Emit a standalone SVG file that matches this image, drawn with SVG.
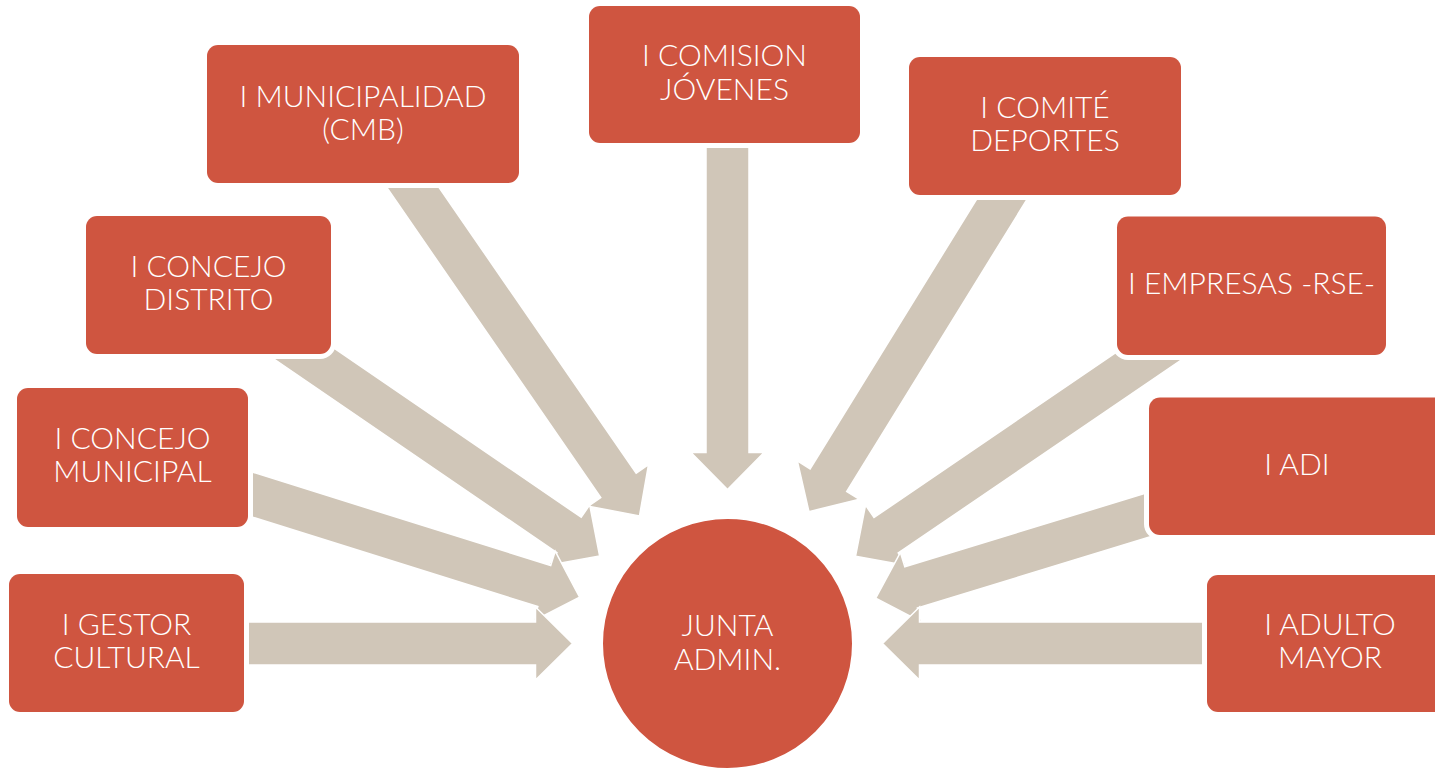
<svg xmlns="http://www.w3.org/2000/svg" xmlns:xlink="http://www.w3.org/1999/xlink" width="1435" height="768" viewBox="0 0 1435 768">
<style>
.box{fill:#CF5540;stroke:#fff;stroke-width:10;paint-order:stroke}
.arw{fill:#D0C6B8;stroke:#fff;stroke-width:1.5}
.t{fill:#fff;font-family:"Lato","Open Sans","Liberation Sans",sans-serif;font-weight:300;font-size:30px;text-anchor:middle}
</style>
<defs>
<polygon id="arr" points="0,0 -37,-36.5 -37,-21.5 -490,-21.5 -490,21.5 -37,21.5 -37,36.5"/>
<polygon id="arrS" points="0,0 -37,-36.5 -37,-21.5 -420,-21.5 -420,21.5 -37,21.5 -37,36.5"/>
</defs>
<rect width="1435" height="768" fill="#fff"/>
<g id="connectors">
<use xlink:href="#arr" class="arw" transform="translate(727.5,643.5) rotate(55.4) translate(-155,0)"/>
<use xlink:href="#arr" class="arw" transform="translate(727.5,643.5) rotate(121.7) translate(-155,0)"/>
<use xlink:href="#arr" class="arw" transform="translate(727.5,643.5) rotate(34.4) translate(-155,0)"/>
<use xlink:href="#arr" class="arw" transform="translate(727.5,643.5) rotate(145.7) translate(-155,0)"/>
<use xlink:href="#arr" class="arw" transform="translate(727.5,643.5) rotate(17.4) translate(-155,0)"/>
<use xlink:href="#arr" class="arw" transform="translate(727.5,643.5) rotate(163) translate(-155,0)"/>
<use xlink:href="#arr" class="arw" transform="translate(727.5,643.5) rotate(0) translate(-155,0)"/>
<use xlink:href="#arr" class="arw" transform="translate(727.5,643.5) rotate(180) translate(-155,0)"/>
<use xlink:href="#arrS" class="arw" transform="translate(727.5,643.5) rotate(90) translate(-154,0)"/>
</g>
<g id="node-municipalidad">
<rect class="box" x="207" y="45" width="312" height="138" rx="11"/>
<text class="t" x="363" y="106.5">I MUNICIPALIDAD</text>
<text class="t" x="363" y="139.5">(CMB)</text>
</g>
<g id="node-comision">
<rect class="box" x="589" y="6" width="271" height="137" rx="11"/>
<text class="t" x="724.5" y="66">I COMISION</text>
<text class="t" x="724.5" y="99.5">JÓVENES</text>
</g>
<g id="node-comite">
<rect class="box" x="909" y="57" width="272" height="138" rx="11"/>
<text class="t" x="1045" y="118">I COMITÉ</text>
<text class="t" x="1045" y="151">DEPORTES</text>
</g>
<g id="node-empresas">
<rect class="box" x="1117" y="216.5" width="269" height="138.5" rx="11"/>
<text class="t" x="1251.5" y="293.5">I EMPRESAS -RSE-</text>
</g>
<g id="node-adi">
<rect class="box" x="1149" y="397.5" width="300" height="137.5" rx="11"/>
<text class="t" x="1297" y="475">I ADI</text>
</g>
<g id="node-adulto">
<rect class="box" x="1207" y="575" width="250" height="137" rx="11"/>
<text class="t" x="1330" y="635">I ADULTO</text>
<text class="t" x="1330" y="668">MAYOR</text>
</g>
<g id="node-concejo-distrito">
<rect class="box" x="86" y="216" width="245" height="138" rx="11"/>
<text class="t" x="208.5" y="277">I CONCEJO</text>
<text class="t" x="208.5" y="310">DISTRITO</text>
</g>
<g id="node-concejo-municipal">
<rect class="box" x="17" y="388" width="231" height="139" rx="11"/>
<text class="t" x="132.5" y="449">I CONCEJO</text>
<text class="t" x="132.5" y="482">MUNICIPAL</text>
</g>
<g id="node-gestor">
<rect class="box" x="9" y="574" width="235" height="138" rx="11"/>
<text class="t" x="126.5" y="635">I GESTOR</text>
<text class="t" x="126.5" y="668">CULTURAL</text>
</g>
<g id="node-junta">
<circle cx="727.5" cy="643.5" r="125.5" fill="#CF5540" stroke="#fff" stroke-width="2"/>
<text class="t" x="727.5" y="636">JUNTA</text>
<text class="t" x="727.5" y="669.5">ADMIN.</text>
</g>
</svg>
